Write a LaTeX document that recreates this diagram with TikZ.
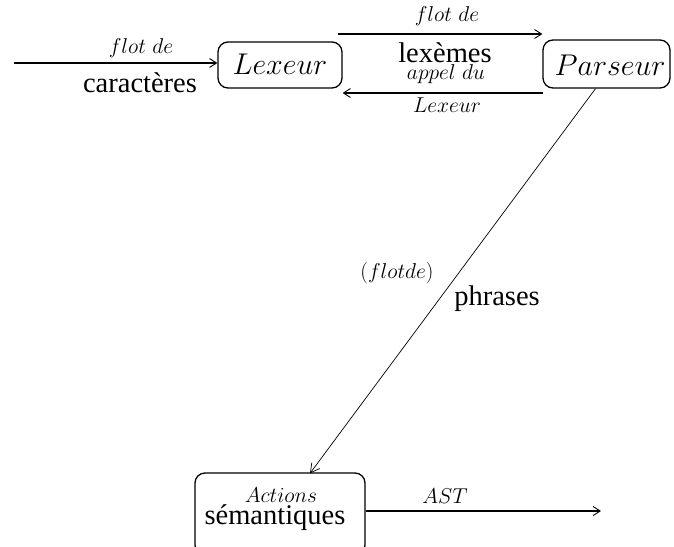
\RequirePackage{fix-cm}
\documentclass[tikz,border=0pt]{standalone}
\usepackage{fontspec}
\newfontfamily\tm{Liberation Serif}
\usetikzlibrary{arrows.meta}
\tikzset{
  box/.style={draw, rounded corners=10pt, line width=1.3pt, inner sep=0pt},
  arr/.style={line width=1.1pt, -{Straight Barb[length=7pt,width=9pt,line width=0.9pt]}},
  diag/.style={line width=0.7pt, -{Straight Barb[length=9pt,width=10pt,line width=0.7pt]}},
  small/.style={anchor=base, inner sep=0pt, font=\fontsize{21.5}{24}\selectfont},
  big/.style={anchor=base, inner sep=0pt, font=\fontsize{28.5}{31}\selectfont\tm},
  bigm/.style={anchor=base, inner sep=0pt, font=\fontsize{30}{33}\selectfont},
}
\begin{document}
\begin{tikzpicture}[x=1pt,y=-1pt]
\useasboundingbox (0,0) rectangle (674,546);
% boxes
\node[box, minimum width=124pt, minimum height=46pt] (lex) at (280,65) {};
\node[box, minimum width=127pt, minimum height=48pt] (par) at (606.5,64) {};
\node[box, minimum width=170pt, minimum height=82pt] (act) at (280,514) {};
% box texts
\node[bigm] (lext) at (280,74) {$Lexeur$};
\node[bigm] (part) at (610,75) {$Parseur$};
\node[small] (actt) at (281,502) {$Actions$};
\node[big] (semt) at (275,524) {sémantiques};
% connectors
\coordinate (in) at (14,63);
\draw[arr] (in) -- (in -| lex.west);
\coordinate (t1) at (338,34);
\draw[arr] (t1) -- (t1 -| par.west);
\coordinate (b1) at (543,93);
\draw[arr] (b1) -- (b1 -| lex.east);
\draw[diag] ([xshift=-11pt]par.south) -- ([xshift=30pt,yshift=-1pt]act.north);
\coordinate (out) at (601,511);
\draw[arr] (act.east |- out) -- (out);
% labels
\node[small] (l1) at (141,53) {$flot\ de$};
\node[big] (l2) at (140,92) {caractères};
\node[small] (l3) at (447,21) {$flot\ de$};
\node[big] (l4) at (445,62) {lexèmes};
\node[small] (l5) at (446,79) {$appel\ du$};
\node[small] (l6) at (447,112) {$Lexeur$};
\node[small] (l7) at (397,278) {$(flotde)$};
\node[big] (l8) at (497,305) {phrases};
\node[small] (l9) at (445,503) {$AST$};
\end{tikzpicture}
\end{document}
